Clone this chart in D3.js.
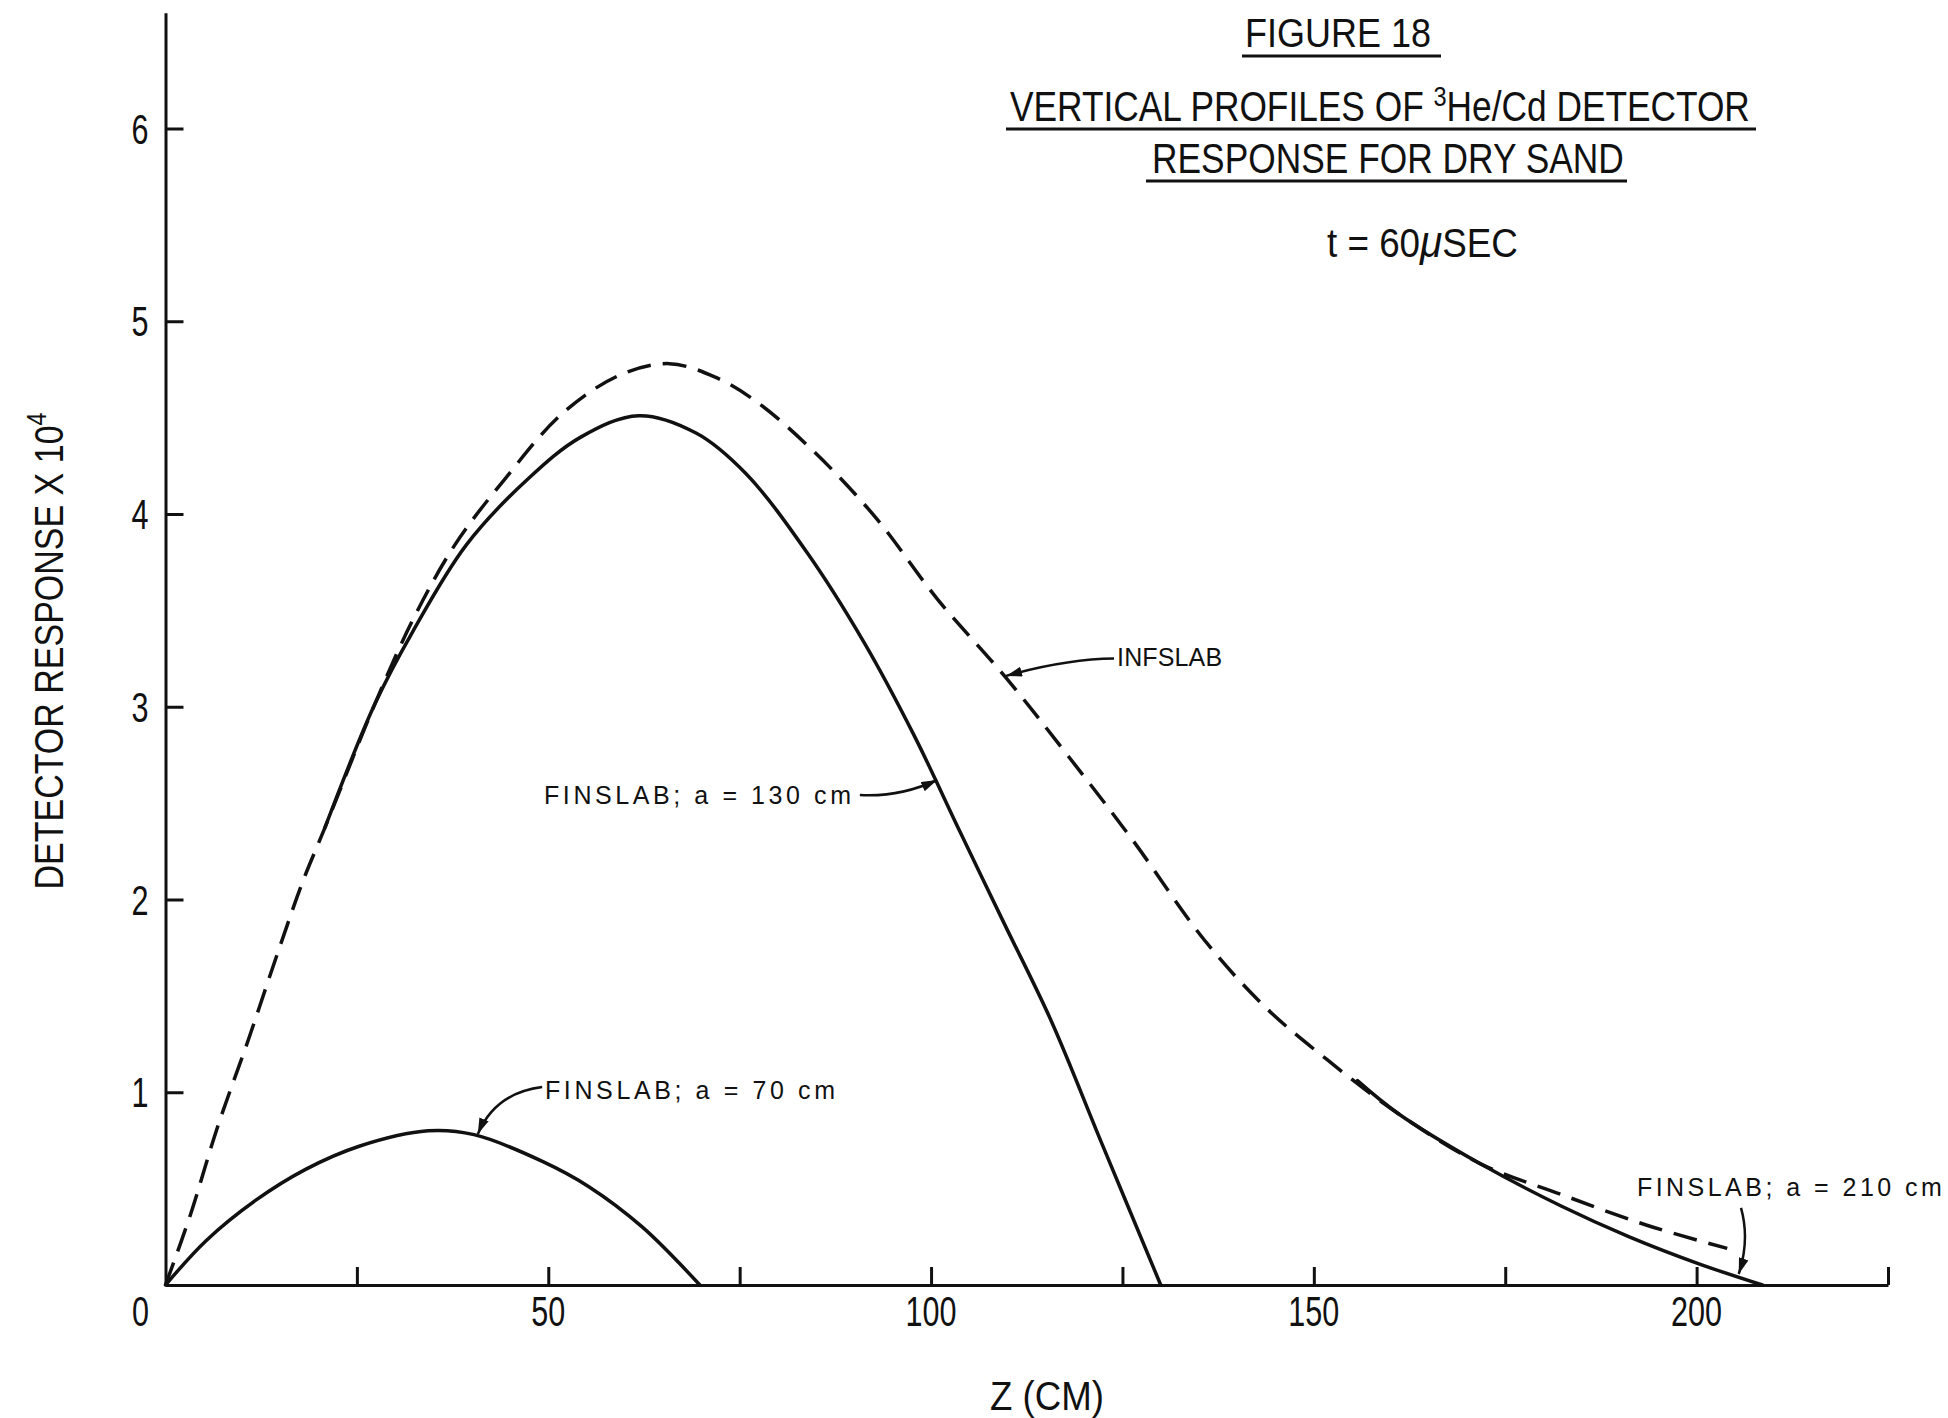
<!DOCTYPE html>
<html lang="en">
<head>
<meta charset="UTF-8">
<title>Figure 18 - Vertical profiles of 3He/Cd detector response</title>
<script src="https://d3js.org/d3.v7.min.js"></script>
<style>
  body { margin: 0; background: #fff; }
  svg { display: block; }
  .axis path, .axis line { stroke: #111; stroke-width: 3; fill: none; }
  .curve { fill: none; stroke: #111; stroke-width: 3.5; stroke-linejoin: round; stroke-linecap: round; }
  .dashed { stroke-dasharray: 24 12; stroke-linecap: butt; }
  .arrow { fill: none; stroke: #111; stroke-width: 2.5; }
  text { font-family: "Liberation Sans", Arial, sans-serif; fill: #111; }
</style>
</head>
<body>
<svg id="chart" width="1948" height="1418"></svg>
<script>
// values: depth Z in cm, detector response x 10^4
var infslabZ = [0, 3.3, 6.8, 10.8, 14.8, 18, 20.8, 27.3, 32.3, 37.8, 44.3, 51.8, 59.3, 65.8, 71.8, 77.3,
                84.8, 92.8, 100.8, 109.8, 117.8, 126.3, 135.7, 143.7, 151.7, 161, 171.7, 182.3, 193.5, 204];
var infslabR = [0, 0.37, 0.82, 1.27, 1.74, 2.10, 2.37, 3.01, 3.45, 3.84, 4.18, 4.52, 4.72, 4.78, 4.71, 4.58,
                4.32, 3.98, 3.56, 3.15, 2.75, 2.31, 1.79, 1.44, 1.17, 0.89, 0.63, 0.47, 0.31, 0.19];

var fin70Z = [0, 5.3, 11.8, 18.3, 25.3, 34.3, 40.3, 49.3, 55.3, 62.3, 69.8];
var fin70R = [0, 0.23, 0.44, 0.60, 0.72, 0.80, 0.78, 0.64, 0.51, 0.30, 0];

var fin130Z = [20.8, 27.3, 32.3, 39.3, 47.3, 54.3, 61.8, 69.3, 75.8, 83.8, 91.3, 97.8, 103.8, 109.5, 115.7, 122.3, 130];
var fin130R = [2.37, 3.01, 3.39, 3.84, 4.18, 4.40, 4.51, 4.42, 4.21, 3.80, 3.33, 2.85, 2.35, 1.88, 1.37, 0.735, 0];

var fin210Z = [155.7, 161, 171.7, 182.3, 191.2, 200.3, 208.6];
var fin210R = [1.06, 0.89, 0.63, 0.41, 0.25, 0.11, 0];

var xTickValues = [25, 50, 75, 100, 125, 150, 175, 200, 225];
var xLabelValues = [0, 50, 100, 150, 200];
var yTickValues = [1, 2, 3, 4, 5, 6];

// curve labels: text position, arrow start / control / tip, all in data units
var labels = [
  { text: "INFSLAB", at: [124.3, 3.26], w: 105, from: [123.9, 3.25], ctrl: [117.6, 3.247], tip: [109.8, 3.16] },
  { text: "FINSLAB; a = 130 cm", at: [49.44, 2.542], w: 307, from: [90.7, 2.542], ctrl: [95.87, 2.53], tip: [100.8, 2.62] },
  { text: "FINSLAB; a = 70 cm", at: [49.57, 1.012], w: 290, from: [49.2, 1.027], ctrl: [43.04, 0.996], tip: [40.8, 0.783] },
  { text: "FINSLAB; a = 210 cm", at: [192.2, 0.508], w: 305, from: [205.8, 0.40], ctrl: [206.97, 0.233], tip: [205.5, 0.057] }
];

var svg = d3.select("#chart");

var x = d3.scaleLinear().domain([0, 225]).range([165.5, 1888]);
var y = d3.scaleLinear().domain([0, 6.6]).range([1285, 12.85]);

svg.append("defs").append("marker")
    .attr("id", "arrowhead")
    .attr("viewBox", "0 0 16 10")
    .attr("refX", 16).attr("refY", 5)
    .attr("markerWidth", 16).attr("markerHeight", 10)
    .attr("markerUnits", "userSpaceOnUse")
    .attr("orient", "auto")
  .append("path")
    .attr("d", "M0,0 L16,5 L0,10 Z")
    .attr("fill", "#111");

// axes (ticks point inward, labels drawn separately)
svg.append("g")
    .attr("class", "axis")
    .attr("transform", "translate(0," + y(0) + ")")
    .call(d3.axisBottom(x).tickValues(xTickValues).tickSizeInner(-18).tickSizeOuter(0).tickFormat(""));

svg.append("g")
    .attr("class", "axis")
    .attr("transform", "translate(" + x(0) + ",0)")
    .call(d3.axisLeft(y).tickValues(yTickValues).tickSizeInner(-18).tickSizeOuter(0).tickFormat(""));

// text squeezed horizontally to a given width (keeps the narrow lettering of the original)
function fitText(px, py, size, width, build, rotate) {
    var g = svg.append("g");
    var t = g.append("text").attr("font-size", size);
    build(t);
    var w = t.node().getComputedTextLength();
    var sx = width / w;
    g.attr("transform", "translate(" + px + "," + py + ")" + (rotate ? " rotate(" + rotate + ")" : "") +
                        " scale(" + sx + ",1)");
    return t;
}
function plain(str) { return function(t) { t.text(str); }; }

xLabelValues.forEach(function(v) {
    var s = String(v);
    var cx = v === 0 ? x(0) - 25 : x(v);
    fitText(cx - s.length * 8.5, y(0) + 41, 42, s.length * 17, plain(s));
});
yTickValues.forEach(function(v) {
    fitText(140 - 8.5, y(v) + 15, 42, 17, plain(String(v)));
});

// axis titles
fitText(63, 889.5, 41, 477, function(t) {
    t.append("tspan").text("DETECTOR RESPONSE X 10");
    t.append("tspan").attr("font-size", 28).attr("dy", -17).text("4");
}, -90);

fitText(990, 1410, 41, 114, plain("Z (CM)"));

// title block
fitText(1245, 47, 41, 186, plain("FIGURE 18"));
fitText(1010, 121, 42, 740, function(t) {
    t.append("tspan").text("VERTICAL PROFILES OF ");
    t.append("tspan").attr("font-size", 28).attr("dy", -15).text("3");
    t.append("tspan").attr("dy", 15).text("He/Cd DETECTOR");
});
fitText(1152, 173, 42, 472, plain("RESPONSE FOR DRY SAND"));
fitText(1327, 257, 40, 191, function(t) {
    t.append("tspan").text("t = 60");
    t.append("tspan").attr("font-style", "italic").attr("font-size", 44).text("\u03BC");
    t.append("tspan").text("SEC");
});

[[56, 1242, 1441], [129, 1006, 1756], [181, 1146, 1627]].forEach(function(u) {
    svg.append("line")
        .attr("x1", u[1]).attr("x2", u[2]).attr("y1", u[0]).attr("y2", u[0])
        .attr("stroke", "#111").attr("stroke-width", 3);
});

// curves
var line = d3.line()
    .x(function(d) { return x(d[0]); })
    .y(function(d) { return y(d[1]); })
    .curve(d3.curveCatmullRom.alpha(0.5));

svg.append("path").attr("class", "curve dashed").attr("d", line(d3.zip(infslabZ, infslabR)));
svg.append("path").attr("class", "curve").attr("d", line(d3.zip(fin70Z, fin70R)));
svg.append("path").attr("class", "curve").attr("d", line(d3.zip(fin130Z, fin130R)));
svg.append("path").attr("class", "curve").attr("d", line(d3.zip(fin210Z, fin210R)));

// labels with arrows
labels.forEach(function(l) {
    svg.append("text")
        .attr("x", x(l.at[0])).attr("y", y(l.at[1]) + 9)
        .attr("font-size", 25)
        .attr("textLength", l.w).attr("lengthAdjust", "spacing")
        .text(l.text);
    svg.append("path")
        .attr("class", "arrow")
        .attr("marker-end", "url(#arrowhead)")
        .attr("d", "M" + x(l.from[0]) + "," + y(l.from[1]) +
                   " Q" + x(l.ctrl[0]) + "," + y(l.ctrl[1]) +
                   " " + x(l.tip[0]) + "," + y(l.tip[1]));
});
</script>
</body>
</html>
